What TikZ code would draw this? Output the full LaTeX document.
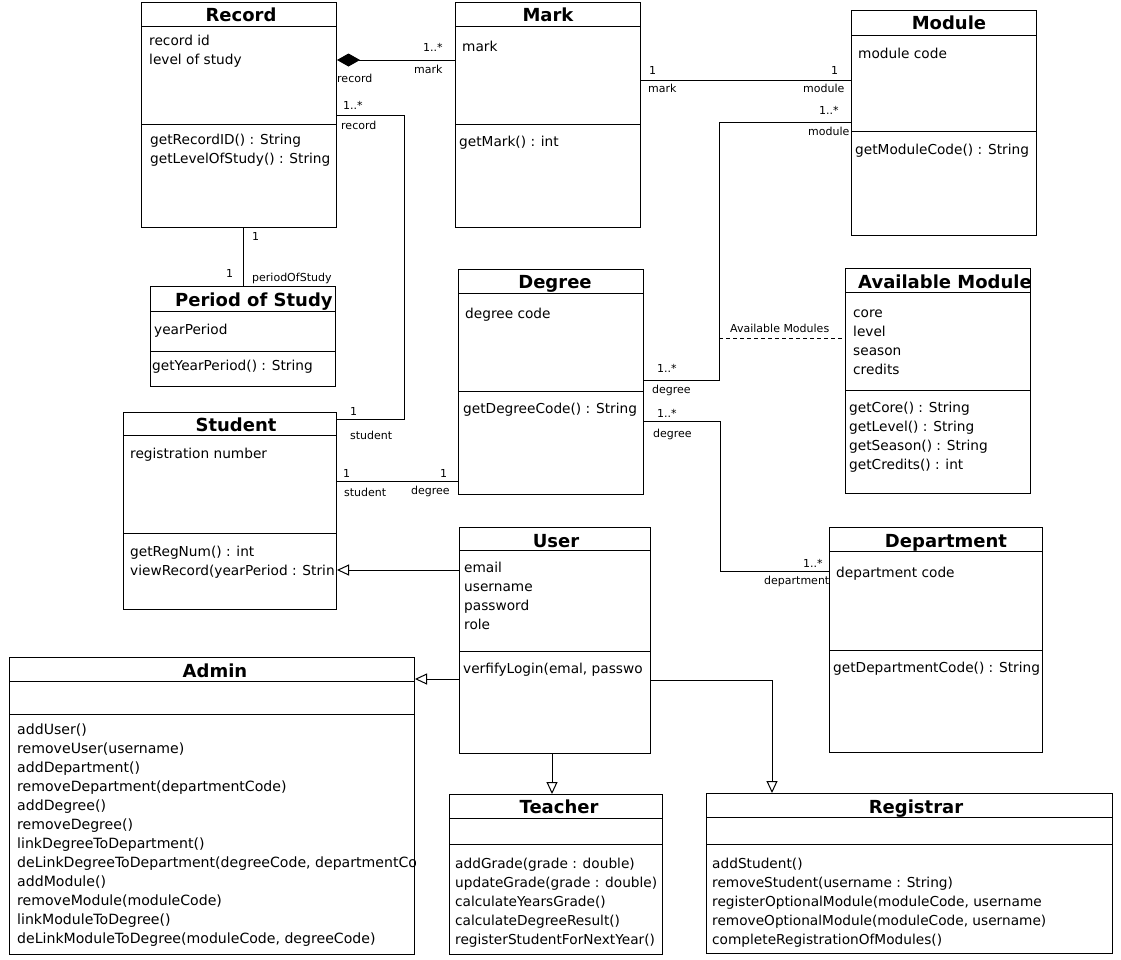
\documentclass[tikz,border=0pt]{standalone}
\usepackage{fontspec}
\setmainfont{DejaVu Sans}
\usetikzlibrary{arrows.meta}

\tikzset{
  classbox/.style={draw, line width=1pt, anchor=north west, inner sep=0pt},
  classtitle/.style={anchor=base, inner sep=0pt, font=\fontsize{18}{20}\selectfont\bfseries},
  member/.style={anchor=base west, inner sep=0pt, font=\fontsize{13.7}{16}\selectfont},
  lbl/.style={anchor=base west, inner sep=0pt, font=\fontsize{11}{13}\selectfont},
  assoc/.style={line width=1pt},
  inherit/.style={line width=1pt, -{Triangle[open, length=12pt, width=11pt]}},
  compose/.style={line width=1pt, -{Diamond[length=23pt, width=13pt]}},
}

\newcommand{\compart}[2]{\draw[line width=1pt] (#1.west |- 0,#2) -- (#1.east |- 0,#2);}
\newcommand{\members}[4]{%
  \foreach \m [count=\k from 0] in {#4}
    \node[member] (#1-\k) at (#2,#3+19*\k) {\m};
}

\begin{document}
\begin{tikzpicture}[x=1pt, y=-1pt]
\useasboundingbox (0,0) rectangle (1121,959);
\fill[white] (0,0) rectangle (1121,959);

\node[classbox, minimum width=195pt, minimum height=225pt] (record) at (141,2) {};
\node[classbox, minimum width=185pt, minimum height=225pt] (mark) at (455,2) {};
\node[classbox, minimum width=185pt, minimum height=225pt] (module) at (851,10) {};
\node[classbox, minimum width=185pt, minimum height=100pt] (period) at (150,286) {};
\node[classbox, minimum width=213pt, minimum height=197pt] (student) at (123,412) {};
\node[classbox, minimum width=185pt, minimum height=225pt] (degree) at (458,269) {};
\node[classbox, minimum width=185pt, minimum height=225pt] (avail) at (845,268) {};
\node[classbox, minimum width=191pt, minimum height=226pt] (user) at (459,527) {};
\node[classbox, minimum width=213pt, minimum height=225pt] (dept) at (829,527) {};
\node[classbox, minimum width=405pt, minimum height=297pt] (admin) at (9,657) {};
\node[classbox, minimum width=213pt, minimum height=160pt] (teacher) at (449,794) {};
\node[classbox, minimum width=406pt, minimum height=160pt] (registrar) at (706,793) {};

\compart{record}{26} \compart{record}{124}
\compart{mark}{26} \compart{mark}{124}
\compart{module}{35} \compart{module}{131}
\compart{period}{311} \compart{period}{351}
\compart{student}{435} \compart{student}{533}
\compart{degree}{293} \compart{degree}{391}
\compart{avail}{292} \compart{avail}{390}
\compart{user}{550} \compart{user}{651}
\compart{dept}{551} \compart{dept}{650}
\compart{admin}{681} \compart{admin}{714}
\compart{teacher}{818} \compart{teacher}{844}
\compart{registrar}{817} \compart{registrar}{844}

\node[classtitle] (record-t) at (241,21) {Record};
\node[classtitle] (mark-t) at (548,21) {Mark};
\node[classtitle] (module-t) at (949,29) {Module};
\node[classtitle, anchor=base west] (period-t) at (175,306) {Period of Study};
\node[classtitle] (student-t) at (236,431) {Student};
\node[classtitle] (degree-t) at (555,288) {Degree};
\node[classtitle] (user-t) at (556,547) {User};
\node[classtitle] (dept-t) at (946,547) {Department};
\node[classtitle] (admin-t) at (215,677) {Admin};
\node[classtitle] (teacher-t) at (559,813) {Teacher};
\node[classtitle] (registrar-t) at (916,813) {Registrar};

\members{record-a}{149}{45}{record id, level of study}
\members{record-m}{150}{144}{getRecordID() : String, getLevelOfStudy() : String}
\members{mark-a}{462}{51}{mark}
\members{mark-m}{459}{146}{getMark() : int}
\members{module-a}{858}{58}{module code}
\members{module-m}{855}{154}{getModuleCode() : String}
\members{period-a}{154}{334}{yearPeriod}
\members{period-m}{152}{370}{getYearPeriod() : String}
\members{degree-a}{465}{318}{degree code}
\members{degree-m}{463}{413}{getDegreeCode() : String}
\members{dept-a}{836}{577}{department code}
\members{dept-m}{833}{672}{getDepartmentCode() : String}
\members{teacher-m}{455}{868}{addGrade(grade : double), updateGrade(grade : double), calculateYearsGrade(), calculateDegreeResult(), registerStudentForNextYear()}

\begin{scope}
\clip (student.north west) rectangle (student.south east);
\members{student-a}{130}{458}{registration number}
\members{student-m}{130}{556}{getRegNum() : int, viewRecord(yearPeriod : Strin}
\end{scope}
\begin{scope}
\clip (avail.north west) rectangle (avail.south east);
\node[classtitle, anchor=base west] (avail-t) at (858,288) {Available Modules};
\members{avail-a}{853}{317}{core, level, season, credits}
\members{avail-m}{849}{412}{getCore() : String, getLevel() : String, getSeason() : String, getCredits() : int}
\end{scope}
\begin{scope}
\clip (user.north west) rectangle (user.south east);
\members{user-a}{464}{572}{email, username, password, role}
\members{user-m}{463}{673}{{verfifyLogin(emal, passwo}}
\end{scope}
\begin{scope}[member/.append style={font=\fontsize{14.1}{16}\selectfont}]
\clip (admin.north west) rectangle (admin.south east);
\members{admin-m}{17}{734}{addUser(), removeUser(username), addDepartment(), removeDepartment(departmentCode), addDegree(), removeDegree(), linkDegreeToDepartment(), {deLinkDegreeToDepartment(degreeCode, departmentCo}, addModule(), removeModule(moduleCode), linkModuleToDegree(), {deLinkModuleToDegree(moduleCode, degreeCode)}}
\end{scope}
\begin{scope}
\clip (registrar.north west) rectangle (1046,953);
\members{registrar-m}{712}{868}{addStudent(), removeStudent(username : String), {registerOptionalModule(moduleCode, username}, {removeOptionalModule(moduleCode, username)}, completeRegistrationOfModules()}
\end{scope}

\coordinate (amod) at (719,338);

\draw[compose] (mark.west |- 0,60) -- (record.east |- 0,60);
\draw[assoc] (record.east |- 0,115) -- ++(67,0) |- (student.east |- 0,419);
\draw[assoc] (period.north |- record.south) -- (period.north);
\draw[assoc] (mark.east |- 0,80) -- (module.west |- 0,80);
\draw[assoc] (module.west |- 0,122) -- ++(-132,0) |- (degree.east |- 0,380);
\draw[line width=1pt, dash pattern=on 4pt off 3pt] (amod) -- (avail.west |- amod);
\draw[assoc] (degree.east |- 0,421) -- ++(76,0) |- (dept.west |- 0,571);
\draw[assoc] (student.east |- 0,481) -- (degree.west |- 0,481);
\draw[inherit] (user.west |- 0,570) -- (student.east |- 0,570);
\draw[inherit] (user.west |- 0,679) -- (admin.east |- 0,679);
\draw[inherit] (user.south -| 552,0) -- (teacher.north -| 552,0);
\draw[inherit] (user.east |- 0,680) -| (registrar.north -| 772,0);

\node[lbl] (l1) at (423,51) {1..*};
\node[lbl] (l2) at (414,73) {mark};
\node[lbl] (l3) at (337,82) {record};
\node[lbl] (l4) at (343,109) {1..*};
\node[lbl] (l5) at (341,129) {record};
\node[lbl] (l6) at (252,240) {1};
\node[lbl] (l7) at (226,277) {1};
\node[lbl] (l8) at (252,281) {periodOfStudy};
\node[lbl] (l9) at (649,74) {1};
\node[lbl] (l10) at (648,92) {mark};
\node[lbl] (l11) at (831,74) {1};
\node[lbl] (l12) at (803,92) {module};
\node[lbl] (l13) at (819,114) {1..*};
\node[lbl] (l14) at (808,135) {module};
\node[lbl] (l15) at (657,372) {1..*};
\node[lbl] (l16) at (652,393) {degree};
\node[lbl] (l17) at (730,332) {Available Modules};
\node[lbl] (l18) at (657,417) {1..*};
\node[lbl] (l19) at (653,437) {degree};
\node[lbl] (l20) at (803,567) {1..*};
\node[lbl] (l21) at (764,584) {department};
\node[lbl] (l22) at (350,415) {1};
\node[lbl] (l23) at (350,439) {student};
\node[lbl] (l24) at (343,477) {1};
\node[lbl] (l25) at (344,496) {student};
\node[lbl] (l26) at (440,477) {1};
\node[lbl] (l27) at (411,494) {degree};
\end{tikzpicture}
\end{document}
